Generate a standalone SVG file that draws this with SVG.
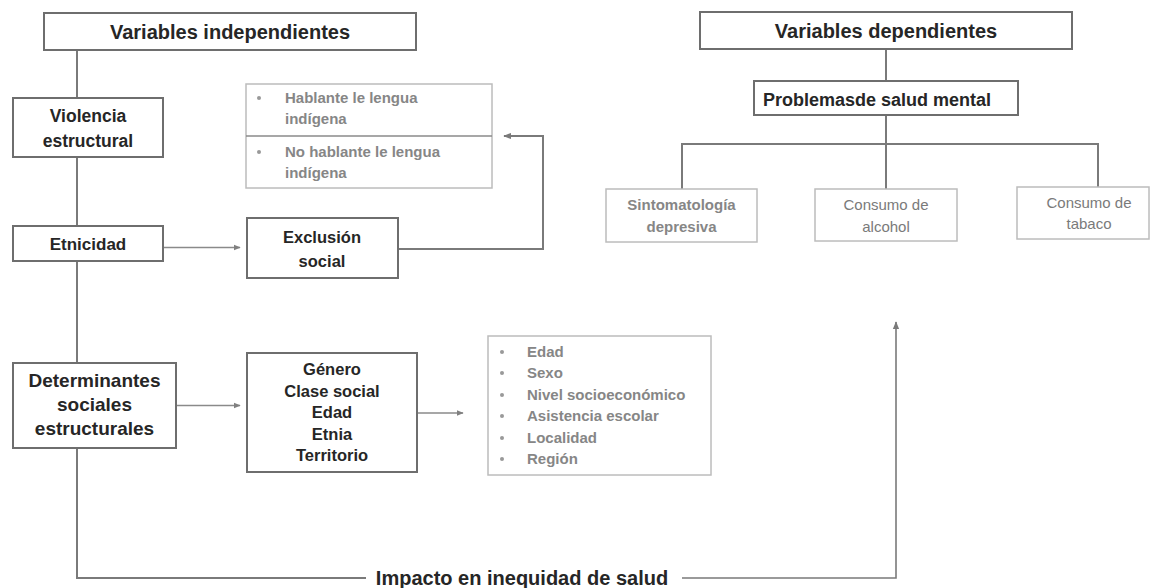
<svg xmlns="http://www.w3.org/2000/svg" width="1151" height="588" viewBox="0 0 1151 588">
<defs>
<marker id="ah" viewBox="0 0 10 10" refX="9" refY="5" markerWidth="7" markerHeight="7" markerUnits="userSpaceOnUse" orient="auto">
<path d="M0,1 L10,5 L0,9 z" fill="#808080"/>
</marker>
<marker id="ah2" viewBox="0 0 10 10" refX="9" refY="5" markerWidth="8" markerHeight="8" markerUnits="userSpaceOnUse" orient="auto">
<path d="M0,1 L10,5 L0,9 z" fill="#7a7a7a"/>
</marker>
<style>
.box{fill:#fff;stroke:#6e6e6e;stroke-width:2}
.gbox{fill:#fff;stroke:#bcbcbc;stroke-width:1.5}
.t{font-family:"Liberation Sans",Arial,sans-serif;font-weight:bold;fill:#262626;text-anchor:middle}
.ts{font-family:"Liberation Sans",Arial,sans-serif;font-weight:bold;fill:#262626;text-anchor:start}
.g{font-family:"Liberation Sans",Arial,sans-serif;font-weight:bold;fill:#868686}
.gm{font-family:"Liberation Sans",Arial,sans-serif;font-weight:bold;fill:#868686;text-anchor:middle}
.gr{font-family:"Liberation Sans",Arial,sans-serif;fill:#7a7a7a;text-anchor:middle}
.ln{fill:none;stroke:#7a7a7a;stroke-width:2}
.thin{fill:none;stroke:#8a8a8a;stroke-width:1.3}
</style>
</defs>
<g id="connectors">
<path class="ln" d="M77,50 V98 M77,157 V226 M77,261 V363"/>
<path class="ln" d="M77,448 V578 H366"/>
<path class="ln" d="M682,578 H896 V322" marker-end="url(#ah2)" style="stroke-width:1.6"/>
<path class="thin" d="M163,247.5 H240" marker-end="url(#ah)"/>
<path class="thin" d="M176,405.5 H240" marker-end="url(#ah)"/>
<path class="thin" d="M417,413 H463" marker-end="url(#ah)"/>
<path class="ln" d="M398,249 H543 V136 H504" marker-end="url(#ah2)"/>
<path class="ln" d="M886,49 V81 M886,115 V189 M682,189 V144 H1098 V187"/>
</g>
<g id="var-indep"><rect class="box" x="44" y="13" width="372" height="37"/><text class="t" x="230" y="39" font-size="20">Variables independientes</text></g>
<g id="violencia"><rect class="box" x="13" y="98" width="150" height="59"/><text class="t" x="88" y="122" font-size="17.5">Violencia</text><text class="t" x="88" y="147" font-size="17.5">estructural</text></g>
<g id="lengua"><rect class="gbox" x="246" y="84" width="246" height="104"/><line x1="246" y1="136" x2="492" y2="136" stroke="#8a8a8a" stroke-width="1.5"/>
<circle cx="259" cy="98" r="2" fill="#999"/><text class="g" x="285" y="103" font-size="15">Hablante le lengua</text><text class="g" x="285" y="124" font-size="15">indígena</text>
<circle cx="259" cy="152" r="2" fill="#999"/><text class="g" x="285" y="157" font-size="15">No hablante le lengua</text><text class="g" x="285" y="178" font-size="15">indígena</text></g>
<g id="etnicidad"><rect class="box" x="13" y="226" width="150" height="35"/><text class="t" x="88" y="250" font-size="17">Etnicidad</text></g>
<g id="exclusion"><rect class="box" x="247" y="218" width="151" height="60"/><text class="t" x="322" y="243" font-size="16.5">Exclusión</text><text class="t" x="322" y="267" font-size="16.5">social</text></g>
<g id="determinantes"><rect class="box" x="13" y="363" width="163" height="85"/><text class="t" x="94.5" y="387" font-size="19">Determinantes</text><text class="t" x="94.5" y="411" font-size="19">sociales</text><text class="t" x="94.5" y="435" font-size="19">estructurales</text></g>
<g id="genero"><rect class="box" x="247" y="353" width="170" height="119"/>
<text class="t" x="332" y="375" font-size="16.5">Género</text><text class="t" x="332" y="397" font-size="16.5">Clase social</text><text class="t" x="332" y="418" font-size="16.5">Edad</text><text class="t" x="332" y="440" font-size="16.5">Etnia</text><text class="t" x="332" y="461" font-size="16.5">Territorio</text></g>
<g id="lista"><rect class="gbox" x="488" y="336" width="223" height="139"/>
<g fill="#999"><circle cx="502" cy="352" r="2"/><circle cx="502" cy="373" r="2"/><circle cx="502" cy="395" r="2"/><circle cx="502" cy="416" r="2"/><circle cx="502" cy="438" r="2"/><circle cx="502" cy="459" r="2"/></g>
<text class="g" x="527" y="357" font-size="15">Edad</text><text class="g" x="527" y="378" font-size="15">Sexo</text><text class="g" x="527" y="400" font-size="15">Nivel socioeconómico</text><text class="g" x="527" y="421" font-size="15">Asistencia escolar</text><text class="g" x="527" y="443" font-size="15">Localidad</text><text class="g" x="527" y="464" font-size="15">Región</text></g>
<g id="impacto"><text class="t" x="522" y="585" font-size="20">Impacto en inequidad de salud</text></g>
<g id="var-dep"><rect class="box" x="700" y="12" width="372" height="37"/><text class="t" x="886" y="38" font-size="20">Variables dependientes</text></g>
<g id="problemas"><rect class="box" x="754" y="81" width="264" height="34"/><text class="ts" x="763" y="106" font-size="18">Problemasde salud mental</text></g>
<g id="sintomatologia"><rect class="gbox" x="606" y="189" width="151" height="53"/><text class="gm" x="681.5" y="210" font-size="15">Sintomatología</text><text class="gm" x="681.5" y="232" font-size="15">depresiva</text></g>
<g id="alcohol"><rect class="gbox" x="815" y="189" width="142" height="52"/><text class="gr" x="886" y="210" font-size="15">Consumo de</text><text class="gr" x="886" y="232" font-size="15">alcohol</text></g>
<g id="tabaco"><rect class="gbox" x="1017" y="187" width="132" height="52"/><text class="gr" x="1089" y="208" font-size="15">Consumo de</text><text class="gr" x="1089" y="229" font-size="15">tabaco</text></g>
</svg>
